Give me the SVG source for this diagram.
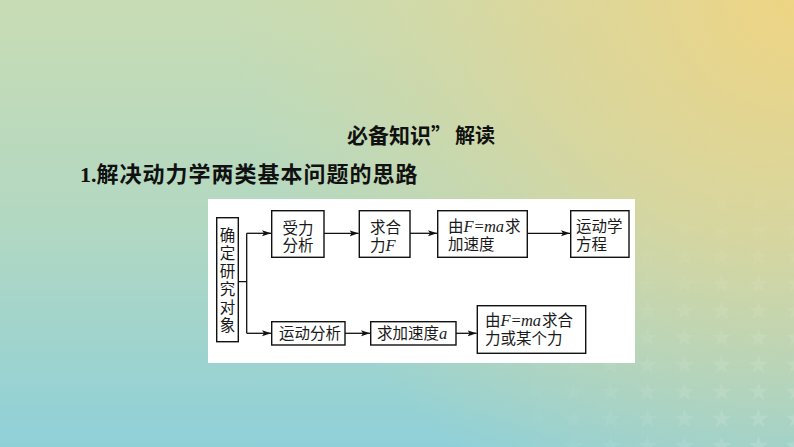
<svg xmlns="http://www.w3.org/2000/svg" width="794" height="447" viewBox="0 0 794 447">
<style>
.box{fill:none;stroke:#111;stroke-width:1.4}
.t{font-family:"Noto Sans CJK SC","Noto Sans CJK JP",sans-serif;font-size:15.5px;fill:#1a1a1a}
.i{font-family:"Liberation Serif",serif;font-style:italic;font-size:16.5px}
.eq{font-family:"Liberation Serif",serif;font-size:16.5px}
.con{fill:none;stroke:#111;stroke-width:1.3}
.h{font-family:"Noto Sans CJK SC","Noto Sans CJK JP",sans-serif;font-weight:bold;fill:#111}
</style>
<defs>
<linearGradient id="bgv" x1="0" y1="0" x2="0" y2="1">
<stop offset="0" stop-color="#c8dcb4"/>
<stop offset="0.5" stop-color="#b2d8c2"/>
<stop offset="1" stop-color="#8fd0d8"/>
</linearGradient>
<radialGradient id="yel" cx="794" cy="0" r="560" gradientUnits="userSpaceOnUse">
<stop offset="0" stop-color="#eed483" stop-opacity="1"/>
<stop offset="0.45" stop-color="#e4d592" stop-opacity="0.7"/>
<stop offset="1" stop-color="#d8d8a0" stop-opacity="0"/>
</radialGradient>
<radialGradient id="fade" cx="794" cy="447" r="300" gradientUnits="userSpaceOnUse">
<stop offset="0" stop-color="#fff" stop-opacity="1"/>
<stop offset="1" stop-color="#fff" stop-opacity="0"/>
</radialGradient>
<mask id="starmask"><rect width="794" height="447" fill="url(#fade)"/></mask>
<pattern id="stars" x="0" y="0" width="37" height="27" patternUnits="userSpaceOnUse">
<polygon points="18.5,4 20.8,10.8 28,10.9 22.3,15.2 24.4,22 18.5,17.9 12.6,22 14.7,15.2 9,10.9 16.2,10.8" fill="#fff"/>
</pattern>
<marker id="ah" markerWidth="10" markerHeight="8" refX="9" refY="4" orient="auto" markerUnits="userSpaceOnUse">
<path d="M0,1 L9,4 L0,7 L2,4 Z" fill="#111"/>
</marker>
</defs>
<rect width="794" height="447" fill="url(#bgv)"/>
<rect width="794" height="447" fill="url(#yel)"/>
<rect width="794" height="447" fill="url(#stars)" opacity="0.14" mask="url(#starmask)"/>

<g id="title">
<text class="h" font-size="21" y="143"><tspan x="347">必备知识</tspan><tspan x="431">”</tspan><tspan x="455" font-size="20">解读</tspan></text>
</g>
<g id="subtitle">
<text y="182" font-size="22"><tspan font-family="Liberation Serif,serif" font-weight="bold" fill="#111" x="80">1.</tspan><tspan class="h" letter-spacing="1">解决动力学两类基本问题的思路</tspan></text>
</g>

<rect id="panel" x="208" y="199" width="427" height="164" fill="#fff"/>

<g id="connectors">
<path class="con" d="M238.3,281.7 H246.7 M246.7,233.3 V333.3"/>
<path class="con" d="M246.7,233.3 H271" marker-end="url(#ah)"/>
<path class="con" d="M246.7,333.3 H271" marker-end="url(#ah)"/>
<path class="con" d="M324,233.3 H358.6" marker-end="url(#ah)"/>
<path class="con" d="M410,233.3 H437" marker-end="url(#ah)"/>
<path class="con" d="M527.3,233.3 H570" marker-end="url(#ah)"/>
<path class="con" d="M345,333.3 H370" marker-end="url(#ah)"/>
<path class="con" d="M456,333.3 H476.6" marker-end="url(#ah)"/>
</g>

<g id="n-object">
<rect class="box" x="216.7" y="217.7" width="21.6" height="124"/>
<text class="t" text-anchor="middle"><tspan x="227.5" y="241.2">确</tspan><tspan x="227.5" y="259.2">定</tspan><tspan x="227.5" y="277.2">研</tspan><tspan x="227.5" y="295.2">究</tspan><tspan x="227.5" y="313.2">对</tspan><tspan x="227.5" y="331.2">象</tspan></text>
</g>
<g id="n-force">
<rect class="box" x="271.7" y="210.7" width="52.3" height="46.6"/>
<text class="t" text-anchor="middle"><tspan x="298" y="233.5">受力</tspan><tspan x="298" y="251">分析</tspan></text>
</g>
<g id="n-net">
<rect class="box" x="359.3" y="210.7" width="50.7" height="46.6"/>
<text class="t"><tspan x="370" y="232.5">求合</tspan><tspan x="370" y="250.5">力</tspan><tspan class="i">F</tspan></text>
</g>
<g id="n-acc1">
<rect class="box" x="437.7" y="210.7" width="89.6" height="46.6"/>
<text class="t"><tspan x="448" y="232">由</tspan><tspan class="i">F</tspan><tspan class="eq" dx="1">=</tspan><tspan class="i">ma</tspan><tspan dx="1">求</tspan><tspan x="448" y="250">加速度</tspan></text>
</g>
<g id="n-kin">
<rect class="box" x="570.7" y="210.7" width="58.3" height="46.6"/>
<text class="t"><tspan x="576" y="232">运动学</tspan><tspan x="576" y="250">方程</tspan></text>
</g>
<g id="n-motion">
<rect class="box" x="271.7" y="321.7" width="73.3" height="23.3"/>
<text class="t" x="279" y="339">运动分析</text>
</g>
<g id="n-acc2">
<rect class="box" x="370.7" y="321.7" width="85.3" height="23.3"/>
<text class="t" x="377" y="339">求加速度<tspan class="i">a</tspan></text>
</g>
<g id="n-force2">
<rect class="box" x="477.3" y="305.7" width="108.4" height="47.6"/>
<text class="t"><tspan x="485" y="326">由</tspan><tspan class="i">F</tspan><tspan class="eq" dx="1">=</tspan><tspan class="i">ma</tspan><tspan dx="1">求合</tspan><tspan x="485" y="344">力或某个力</tspan></text>
</g>
</svg>
